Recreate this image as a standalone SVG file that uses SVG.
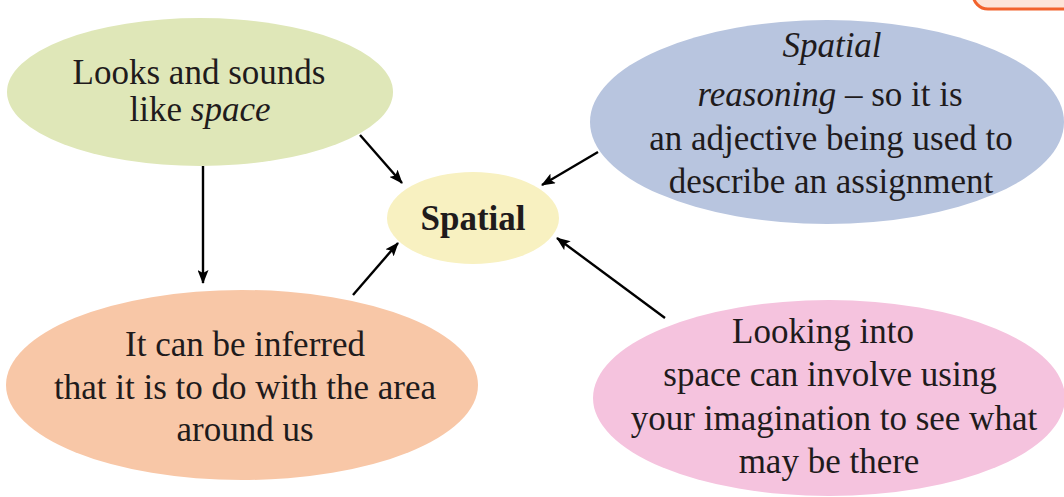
<svg xmlns="http://www.w3.org/2000/svg" width="1064" height="497" viewBox="0 0 1064 497">
<defs>
<style>
.t{font-family:'Liberation Serif','DejaVu Serif','Times New Roman',serif;font-size:35px;fill:#1f1b1c;text-anchor:middle}
.i{font-style:italic}
.b{font-weight:bold}
.c{stroke:#000;stroke-width:2.4;fill:none;marker-end:url(#ah)}
</style>
<marker id="ah" viewBox="0 0 14 11" refX="13" refY="5.5" markerWidth="14" markerHeight="11" markerUnits="userSpaceOnUse" orient="auto">
<path d="M0,0 L14,5.5 L0,11 L3,5.5 z" fill="#000"/>
</marker>
</defs>
<rect width="1064" height="497" fill="#ffffff"/>
<rect x="973" y="-25" width="120" height="34" rx="15" fill="#fde4d8" stroke="#f2622c" stroke-width="3"/>
<g font-family="Liberation Serif, DejaVu Serif, serif">
<g id="node-green">
<ellipse cx="200" cy="92" rx="193" ry="74" fill="#dfe7b8"/>
<text class="t" x="199" y="84">Looks and sounds</text>
<text class="t" x="200" y="121">like <tspan class="i">space</tspan></text>
</g>
<g id="node-blue">
<ellipse cx="827" cy="122" rx="237" ry="102" fill="#b8c5df"/>
<text class="t i" x="832" y="57">Spatial</text>
<text class="t" x="830" y="106"><tspan class="i">reasoning</tspan> – so it is</text>
<text class="t" x="831" y="150">an adjective being used to</text>
<text class="t" x="831" y="193">describe an assignment</text>
</g>
<g id="node-center">
<ellipse cx="473" cy="218" rx="86" ry="46" fill="#f8f1c1"/>
<text class="t b" x="473" y="230">Spatial</text>
</g>
<g id="node-orange">
<ellipse cx="242" cy="385" rx="236" ry="95" fill="#f8c7a7"/>
<text class="t" x="245" y="356">It can be inferred</text>
<text class="t" x="245" y="399">that it is to do with the area</text>
<text class="t" x="245" y="441">around us</text>
</g>
<g id="node-pink">
<ellipse cx="829" cy="398" rx="236" ry="98" fill="#f5c3de"/>
<text class="t" x="823" y="343">Looking into</text>
<text class="t" x="830" y="386">space can involve using</text>
<text class="t" x="834" y="430">your imagination to see what</text>
<text class="t" x="829" y="473">may be there</text>
</g>
</g>
<g id="connectors">
<line class="c" x1="360" y1="135" x2="402" y2="183"/>
<line class="c" x1="203" y1="166" x2="203" y2="283"/>
<line class="c" x1="353" y1="295" x2="398" y2="243"/>
<line class="c" x1="598" y1="152" x2="542" y2="185"/>
<line class="c" x1="665" y1="318" x2="557" y2="238"/>
</g>
</svg>
